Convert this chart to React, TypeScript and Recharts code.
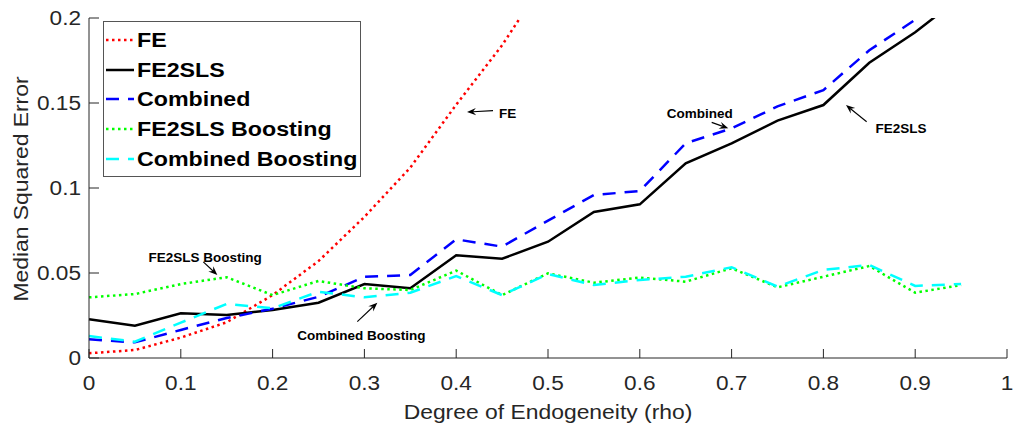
import React from 'react';
import { LineChart, Line, XAxis, YAxis, ReferenceLine, ReferenceDot, Legend } from 'recharts';

// ---------- data ----------
const rho = [0, 0.05, 0.1, 0.15, 0.2, 0.25, 0.3, 0.35, 0.4, 0.45, 0.5, 0.55, 0.6, 0.65, 0.7, 0.75, 0.8, 0.85, 0.9, 0.95];

const feValues: (number | null)[] = [0.0028, 0.0047, 0.012, 0.021, 0.037, 0.057, 0.083, 0.112, 0.149, 0.184, 0.225, null, null, null, null, null, null, null, null, null];
const fe2slsValues = [0.0228, 0.019, 0.0263, 0.0253, 0.0282, 0.0325, 0.0435, 0.041, 0.0604, 0.0584, 0.0684, 0.0859, 0.0904, 0.1145, 0.1263, 0.1396, 0.1488, 0.1737, 0.1916, 0.2126];
const combinedValues = [0.011, 0.0092, 0.0165, 0.0235, 0.029, 0.036, 0.0478, 0.0488, 0.0698, 0.0655, 0.0808, 0.0959, 0.0982, 0.1263, 0.1351, 0.148, 0.1576, 0.181, 0.199, 0.215];
const fe2slsBoostValues = [0.0357, 0.0376, 0.0435, 0.0475, 0.037, 0.0453, 0.041, 0.04, 0.0514, 0.037, 0.0498, 0.0443, 0.0473, 0.0449, 0.0528, 0.0416, 0.0478, 0.0541, 0.0384, 0.0429];
const combinedBoostValues = [0.0129, 0.0096, 0.0208, 0.0318, 0.0292, 0.039, 0.0357, 0.0384, 0.0482, 0.037, 0.0494, 0.0429, 0.0459, 0.0478, 0.0534, 0.042, 0.0518, 0.0547, 0.0424, 0.0435];

const seriesNames = ['FE', 'FE2SLS', 'Combined', 'FE2SLS Boosting', 'Combined Boosting'];

const xTicks = [0, 0.1, 0.2, 0.3, 0.4, 0.5, 0.6, 0.7, 0.8, 0.9, 1];
const xTickLabels = ['0', '0.1', '0.2', '0.3', '0.4', '0.5', '0.6', '0.7', '0.8', '0.9', '1'];
const yTicks = [0, 0.05, 0.1, 0.15, 0.2];
const yTickLabels = ['0', '0.05', '0.1', '0.15', '0.2'];

const xTitle = 'Degree of Endogeneity (rho)';
const yTitle = 'Median Squared Error';

// annotation labels (data coordinates)
const noteTexts = ['FE', 'Combined', 'FE2SLS', 'FE2SLS Boosting', 'Combined Boosting'];
const noteTextX = [0.4466, 0.6652, 0.8845, 0.1264, 0.2966];
const noteTextY = [0.1443, 0.1443, 0.1351, 0.0596, 0.0135];
const noteAnchor = ['start', 'middle', 'middle', 'middle', 'middle'];
const arrowTailX = [0.4401, 0.6783, 0.8471, 0.1245, 0.2923];
const arrowTailY = [0.1455, 0.1386, 0.139, 0.0566, 0.0214];
const arrowTipX = [0.4118, 0.6964, 0.8246, 0.1398, 0.3141];
const arrowTipY = [0.1447, 0.1351, 0.1488, 0.0488, 0.0325];

const data = rho.map((r, i) => ({
  rho: r,
  fe: feValues[i],
  fe2sls: fe2slsValues[i],
  combined: combinedValues[i],
  fe2slsBoost: fe2slsBoostValues[i],
  combinedBoost: combinedBoostValues[i],
}));

// ---------- styles ----------
const FONT = '"Liberation Sans", Arial, Helvetica, sans-serif';
const AXIS = '#262626';
const DOT = '2.5 3.5';
const DASH = '13 9';
const seriesStyle = [
  { key: 'fe', color: '#ff0000', dash: DOT, width: 2.5 },
  { key: 'fe2sls', color: '#000000', dash: undefined as string | undefined, width: 2.5 },
  { key: 'combined', color: '#0000ff', dash: DASH, width: 2.5 },
  { key: 'fe2slsBoost', color: '#00ff00', dash: DOT, width: 2.5 },
  { key: 'combinedBoost', color: '#00ffff', dash: DASH, width: 2.5 },
];

const findIdx = (arr: number[], v: number) => arr.findIndex((t) => Math.abs(t - v) < 1e-9);

const XTick = (p: any) => {
  const i = findIdx(xTicks, p.payload.value);
  return (
    <g transform={`translate(${p.x},${p.y})`}>
      <text transform="scale(1.16,1)" textAnchor="middle" dy="0.71em" fontSize={19.5} fontFamily={FONT} fill={AXIS}>
        {xTickLabels[i]}
      </text>
    </g>
  );
};

const YTick = (p: any) => {
  const i = findIdx(yTicks, p.payload.value);
  return (
    <g transform={`translate(${p.x},${p.y})`}>
      <text transform="scale(1.16,1)" textAnchor="end" dy="0.355em" fontSize={19.5} fontFamily={FONT} fill={AXIS}>
        {yTickLabels[i]}
      </text>
    </g>
  );
};

const XTitle = (p: any) => {
  const vb = p.viewBox || { x: 89, y: 358, width: 918, height: 70 };
  const cx = vb.x + vb.width / 2;
  const cy = vb.y + 61;
  return (
    <g transform={`translate(${cx},${cy}) scale(1.09,1)`}>
      <text textAnchor="middle" fontSize={21} fontFamily={FONT} fill={AXIS}>{xTitle}</text>
    </g>
  );
};

const YTitle = (p: any) => {
  const vb = p.viewBox || { x: 8, y: 18, width: 81, height: 340 };
  const cx = vb.x + 20;
  const cy = vb.y + vb.height / 2 + 1;
  return (
    <g transform={`translate(${cx},${cy}) rotate(-90) scale(1.09,1)`}>
      <text textAnchor="middle" fontSize={21} fontFamily={FONT} fill={AXIS}>{yTitle}</text>
    </g>
  );
};

const Arrow = (p: any) => {
  const { x1, y1, x2, y2 } = p;
  const ang = Math.atan2(y2 - y1, x2 - x1);
  const L = 9;
  const W = 3.6;
  const c = Math.cos(ang);
  const s = Math.sin(ang);
  const bx = x2 - L * c;
  const by = y2 - L * s;
  const nx = x2 - L * 0.65 * c;
  const ny = y2 - L * 0.65 * s;
  const px = -s * W;
  const py = c * W;
  return (
    <g>
      <line x1={x1} y1={y1} x2={nx} y2={ny} stroke="#000" strokeWidth={1.1} />
      <polygon points={`${x2},${y2} ${bx + px},${by + py} ${nx},${ny} ${bx - px},${by - py}`} fill="#000" />
    </g>
  );
};

const NoteText = (text: string, anchor: string) => (p: any) => (
  <text x={p.cx} y={p.cy} dy="0.36em" textAnchor={anchor as any} fontSize={13.5} fontWeight="bold" fontFamily={FONT} fill="#000">
    {text}
  </text>
);

const LegendSample = ({ color, dash }: { color: string; dash?: string }) => (
  <svg width={28} height={8} style={{ display: 'block', marginLeft: 2 }}>
    <line x1={0} y1={4} x2={28} y2={4} stroke={color} strokeWidth={2.5} strokeDasharray={dash} />
  </svg>
);

const LegendBox = () => (
  <div
    style={{
      width: 256,
      height: 151,
      border: '1px solid #555',
      background: '#fff',
      paddingTop: 3,
      boxSizing: 'content-box',
      fontFamily: FONT,
    }}
  >
    {seriesNames.map((name, i) => (
      <div key={name} style={{ display: 'flex', alignItems: 'center', height: 29.75 }}>
        <LegendSample color={seriesStyle[i].color} dash={seriesStyle[i].dash} />
        <span
          style={{
            marginLeft: 3,
            fontSize: 20,
            fontWeight: 'bold',
            color: '#000',
            lineHeight: 1,
            whiteSpace: 'nowrap',
            display: 'inline-block',
            transform: 'scaleX(1.16)',
            transformOrigin: 'left center',
          }}
        >
          {name}
        </span>
      </div>
    ))}
  </div>
);

export default function App() {
  return (
    <div style={{ width: 1013, height: 428, background: '#fff', overflow: 'hidden' }}>
      <style>{'html,body{margin:0;padding:0;overflow:hidden;background:#fff}'}</style>
      <LineChart width={1013} height={428} data={data} margin={{ top: 18, right: 6, bottom: 0, left: 8 }}>
        <XAxis
          dataKey="rho"
          type="number"
          domain={[0, 1]}
          ticks={xTicks}
          interval={0}
          height={70}
          stroke={AXIS}
          tickSize={-9}
          tickMargin={27}
          tick={<XTick />}
          label={{ content: <XTitle /> } as any}
        />
        <YAxis
          type="number"
          domain={[0, 0.2]}
          ticks={yTicks}
          interval={0}
          width={81}
          allowDataOverflow
          stroke={AXIS}
          tickSize={-10}
          tickMargin={18}
          tick={<YTick />}
          label={{ content: <YTitle /> } as any}
        />
        {seriesStyle.map((s, i) => (
          <Line
            key={s.key}
            dataKey={s.key}
            name={seriesNames[i]}
            stroke={s.color}
            strokeWidth={s.width}
            strokeDasharray={s.dash}
            dot={false}
            activeDot={false}
            isAnimationActive={false}
            type="linear"
          />
        ))}
        {noteTexts.map((t, i) => (
          <ReferenceLine
            key={'arrow' + i}
            segment={[
              { x: arrowTailX[i], y: arrowTailY[i] },
              { x: arrowTipX[i], y: arrowTipY[i] },
            ]}
            ifOverflow="visible"
            shape={Arrow}
          />
        ))}
        {noteTexts.map((t, i) => (
          <ReferenceDot
            key={'note' + i}
            x={noteTextX[i]}
            y={noteTextY[i]}
            r={1}
            ifOverflow="visible"
            shape={NoteText(t, noteAnchor[i])}
          />
        ))}
        <Legend
          layout="vertical"
          align="center"
          verticalAlign="middle"
          wrapperStyle={{ left: 103, top: 21, width: 258, height: 154 }}
          content={() => <LegendBox />}
        />
      </LineChart>
    </div>
  );
}
